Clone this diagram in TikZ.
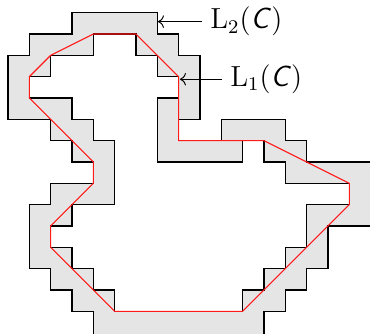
\documentclass[tikz,border=0pt]{standalone}
\definecolor{bandgray}{HTML}{E5E5E5}
\definecolor{polyred}{HTML}{FF1A1A}
\usepackage{amsmath}
\usepackage{tikz}
\usetikzlibrary{arrows.meta}

\begin{document}
\begin{tikzpicture}[x=0.31cm,y=-0.31cm,
    stairline/.style={draw=black,line width=0.55pt},
    lab/.style={anchor=west,font=\large}]
  \useasboundingbox (-0.375,-0.595) rectangle (16.97,15.02);
  \clip (-0.375,-0.595) rectangle (16.97,15.02);
  % L_2(C)
  \filldraw[stairline,fill=bandgray] (3,0) -- (7,0) -- (7,1) -- (8,1) -- (8,2) -- (9,2) -- (9,5) -- (8,5)
    -- (8,6) -- (10,6) -- (10,5) -- (13,5) -- (13,6) -- (14,6) -- (14,7) -- (17,7) -- (17,10)
    -- (15,10) -- (15,12) -- (14,12) -- (14,13) -- (13,13) -- (13,14) -- (12,14) -- (12,16)
    -- (4,16) -- (4,14) -- (3,14) -- (3,13) -- (2,13) -- (2,12) -- (1,12) -- (1,9) -- (2,9)
    -- (2,8) -- (4,8) -- (4,7) -- (3,7) -- (3,6) -- (2,6) -- (2,5) -- (0,5) -- (0,2) -- (1,2)
    -- (1,1) -- (3,1) -- cycle;
  % L_1(C)
  \filldraw[stairline,fill=white] (4,1) -- (6,1) -- (6,2) -- (7,2) -- (7,3) -- (8,3) -- (8,4) -- (7,4)
    -- (7,7) -- (11,7) -- (11,6) -- (12,6) -- (12,7) -- (13,7) -- (13,8) -- (16,8) -- (16,9)
    -- (14,9) -- (14,11) -- (13,11) -- (13,12) -- (12,12) -- (12,13) -- (11,13) -- (11,14)
    -- (5,14) -- (5,13) -- (4,13) -- (4,12) -- (3,12) -- (3,11) -- (2,11) -- (2,10) -- (3,10)
    -- (3,9) -- (5,9) -- (5,6) -- (4,6) -- (4,5) -- (3,5) -- (3,4) -- (1,4) -- (1,3) -- (2,3)
    -- (2,2) -- (4,2) -- cycle;
  % C
  \draw[polyred,line width=0.45pt] (4,1) -- (6,1) -- (8,3) -- (8,6) -- (12,6) -- (16,8) -- (16,9)
    -- (11,14) -- (5,14) -- (2,11) -- (2,10) -- (4,8) -- (4,7) -- (1,4) -- (1,3) -- (2,2) -- cycle;

  \coordinate (tip2) at (7.03,0.42);
  \coordinate (tip1) at (8.06,3.12);
  \node[lab] (lab2) at (9.09,0.42) {$\mathrm{L}_2(\textsf{\textit{C}})$};
  \node[lab] (lab1) at (10.02,3.12) {$\mathrm{L}_1(\textsf{\textit{C}})$};
  \draw[<-] (tip2) -- (lab2);
  \draw[<-] (tip1) -- (lab1);
\end{tikzpicture}
\end{document}
